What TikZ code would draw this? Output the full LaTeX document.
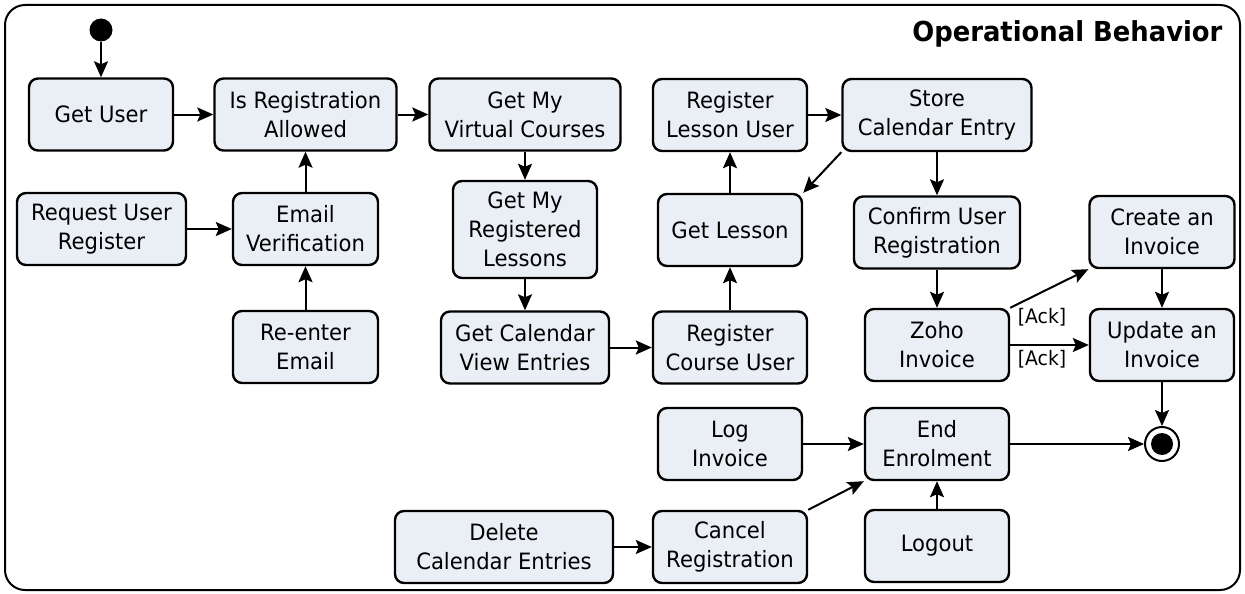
\documentclass[tikz,border=0pt]{standalone}
\usepackage{fontspec}
\setmainfont{DejaVu Sans}[FakeStretch=0.94]
\usetikzlibrary{arrows.meta}
\definecolor{actfill}{RGB}{234,239,246}
\begin{document}
\begin{tikzpicture}[x=1pt,y=-1pt,
    act/.style={draw,fill=actfill,line width=2.4pt,rounded corners=9pt,align=center,
      minimum height=72pt,inner sep=0pt,font=\fontsize{22.5}{29}\selectfont},
    flow/.style={line width=2pt,-{Stealth[length=16pt,width=14pt,inset=3pt]}},
    guard/.style={inner sep=0pt,font=\fontsize{20}{24}\selectfont}]
  \useasboundingbox (0,0) rectangle (1245,594);
  \draw[line width=2pt,rounded corners=20pt] (5,5) rectangle (1240,590);
  \node[anchor=base east,font=\bfseries\fontsize{27.5}{32}\selectfont] (title) at (1226,42) {Operational Behavior};

  \node[circle,fill=black,minimum size=23pt,inner sep=0pt] (start) at (101,30) {};
  \node[act,minimum width=144pt] (getuser) at (101,114.5) {Get User};
  \node[act,minimum width=182pt] (isreg) at (305.5,114.5) {Is Registration\\Allowed};
  \node[act,minimum width=169pt] (requser) at (101.5,229) {Request User\\Register};
  \node[act,minimum width=145pt] (emailver) at (305.5,229) {Email\\Verification};
  \node[act,minimum width=145pt] (reenter) at (305.5,347) {Re-enter\\Email};
  \node[act,minimum width=191pt] (virtcourses) at (525,114.5) {Get My\\Virtual Courses};
  \node[act,minimum width=144pt,minimum height=97pt] (reglessons) at (525,229.5) {Get My\\Registered\\Lessons};
  \node[act,minimum width=168pt] (calview) at (525,347.5) {Get Calendar\\View Entries};
  \node[act,minimum width=154pt] (regcourse) at (730,347.5) {Register\\Course User};
  \node[act,minimum width=144pt] (getlesson) at (730,230) {Get Lesson};
  \node[act,minimum width=154pt] (reglesson) at (730,115) {Register\\Lesson User};
  \node[act,minimum width=189pt] (store) at (937,115) {Store\\Calendar Entry};
  \node[act,minimum width=166pt] (confirm) at (937,232.5) {Confirm User\\Registration};
  \node[act,minimum width=144pt] (zoho) at (937,345) {Zoho\\Invoice};
  \node[act,minimum width=145pt] (create) at (1162,232) {Create an\\Invoice};
  \node[act,minimum width=144pt] (update) at (1162,345) {Update an\\Invoice};
  \node[act,minimum width=144pt] (loginv) at (730,444) {Log\\Invoice};
  \node[act,minimum width=144pt] (endenrol) at (937,444) {End\\Enrolment};
  \node[act,minimum width=218pt] (delete) at (504,547) {Delete\\Calendar Entries};
  \node[act,minimum width=154pt] (cancel) at (730,547) {Cancel\\Registration};
  \node[act,minimum width=144pt] (logout) at (937,546) {Logout};
  \node[circle,draw,line width=2pt,fill=white,minimum size=34pt,inner sep=0pt] (final) at (1162,444) {};
  \node[circle,fill=black,minimum size=22pt,inner sep=0pt] (finaldot) at (final) {};
  \node[guard] (ackone) at (1042,317) {[Ack]};
  \node[guard] (acktwo) at (1042,359) {[Ack]};

  \draw[flow] (start) -- (getuser);
  \draw[flow] (getuser) -- (isreg);
  \draw[flow] (isreg) -- (virtcourses);
  \draw[flow] (requser) -- (emailver);
  \draw[flow] (emailver) -- (isreg);
  \draw[flow] (reenter) -- (emailver);
  \draw[flow] (virtcourses) -- (reglessons);
  \draw[flow] (reglessons) -- (calview);
  \draw[flow] (calview) -- (regcourse);
  \draw[flow] (regcourse) -- (getlesson);
  \draw[flow] (getlesson) -- (reglesson);
  \draw[flow] (reglesson) -- (store);
  \draw[flow] (store.south west) -- (getlesson.north east);
  \draw[flow] (store) -- (confirm);
  \draw[flow] (confirm) -- (zoho);
  \draw[flow] (zoho.north east) -- (create.south west);
  \draw[flow] (zoho) -- (update);
  \draw[flow] (create) -- (update);
  \draw[flow] (update) -- (final);
  \draw[flow] (loginv) -- (endenrol);
  \draw[flow] (cancel.north east) -- (endenrol.south west);
  \draw[flow] (logout) -- (endenrol);
  \draw[flow] (delete) -- (cancel);
  \draw[flow] (endenrol) -- (final);
\end{tikzpicture}
\end{document}
